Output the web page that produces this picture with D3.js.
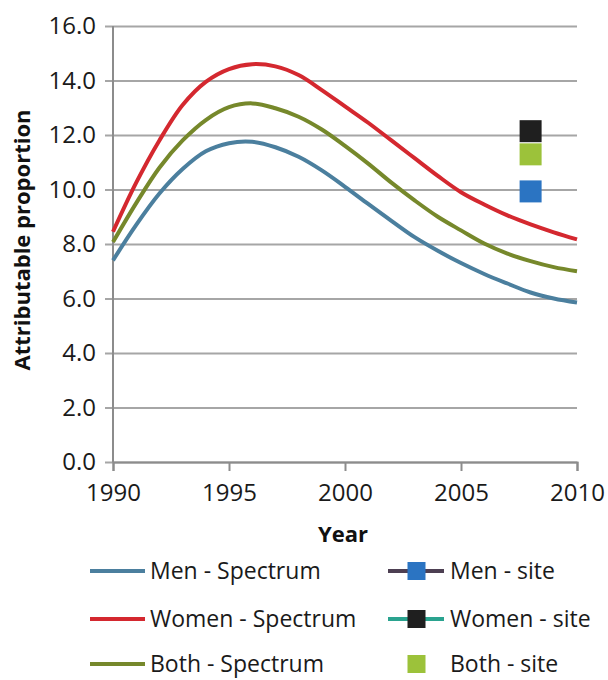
<!DOCTYPE html>
<html>
<head>
<meta charset="utf-8">
<script src="https://cdn.jsdelivr.net/npm/d3@7"></script>
<style>
  body { margin: 0; background: #fff; }
  svg { display: block; font-family: "Open Sans", sans-serif; }
</style>
</head>
<body>
<div id="chart"></div>
<script>
// data
const years = [1990, 1991, 1992, 1993, 1994, 1995, 1996, 1997, 1998, 1999, 2000,
               2001, 2002, 2003, 2004, 2005, 2006, 2007, 2008, 2009, 2010];
const menSpectrum   = [7.4, 8.7, 9.85, 10.75, 11.4, 11.7, 11.75, 11.55, 11.2, 10.7, 10.1,
                       9.47, 8.85, 8.25, 7.75, 7.3, 6.9, 6.55, 6.22, 6.0, 5.85];
const womenSpectrum = [8.45, 10.25, 11.8, 13.1, 13.95, 14.42, 14.6, 14.52, 14.2, 13.65, 13.05,
                       12.45, 11.8, 11.15, 10.5, 9.9, 9.45, 9.05, 8.72, 8.43, 8.17];
const bothSpectrum  = [8.07, 9.5, 10.8, 11.8, 12.55, 13.02, 13.16, 12.98, 12.67, 12.2, 11.6,
                       10.95, 10.25, 9.6, 9.0, 8.5, 8.02, 7.65, 7.37, 7.15, 7.0];
const siteYear = 2008;
const siteValues = [9.93, 11.29, 12.14];          // men, both, women
const yTicks = [0, 2, 4, 6, 8, 10, 12, 14, 16];
const xTicks = [1990, 1995, 2000, 2005, 2010];

const W = 608, H = 680;
const plotL = 113, plotR = 577, plotT = 26, plotB = 462;

const svg = d3.select("#chart").append("svg")
  .attr("width", W).attr("height", H);

const x = d3.scaleLinear().domain([1990, 2010]).range([plotL, plotR]);
const y = d3.scaleLinear().domain([0, 16]).range([plotB, plotT]);

// gridlines + y labels (axis anchored on the right so lines run out past the y axis)
const yAxis = svg.append("g")
  .attr("transform", `translate(${plotR},0)`)
  .call(d3.axisLeft(y).tickValues(yTicks).tickFormat(d3.format(".1f"))
    .tickSize(plotR - plotL + 8).tickPadding(9));
yAxis.select(".domain").remove();
yAxis.selectAll("line").attr("stroke", "#a6a6a6").attr("stroke-width", 2);
yAxis.selectAll("text").attr("font-size", 24).attr("fill", "#1a1a1a")
  .attr("font-family", "Open Sans, sans-serif");

// vertical axis line
svg.append("line")
  .attr("x1", plotL).attr("x2", plotL)
  .attr("y1", y(16)).attr("y2", y(0))
  .attr("stroke", "#8c8c8c").attr("stroke-width", 2);

// x axis
const xAxis = svg.append("g")
  .attr("transform", `translate(0,${plotB})`)
  .call(d3.axisBottom(x).tickValues(xTicks).tickFormat(d3.format("d"))
    .tickSize(9).tickPadding(13));
xAxis.selectAll("path, line").attr("stroke", "#8c8c8c").attr("stroke-width", 2);
xAxis.selectAll("text").attr("font-size", 24).attr("fill", "#1a1a1a")
  .attr("font-family", "Open Sans, sans-serif");

// axis titles
svg.append("text")
  .attr("x", 343).attr("y", 542)
  .attr("text-anchor", "middle")
  .attr("font-size", 22).attr("font-weight", "bold").attr("fill", "#111")
  .text("Year");

svg.append("text")
  .attr("transform", "translate(30,240) rotate(-90)")
  .attr("text-anchor", "middle")
  .attr("font-size", 22).attr("font-weight", "bold").attr("fill", "#111")
  .text("Attributable proportion");

// spectrum lines
const series = [
  {name: "Men - Spectrum", values: menSpectrum, color: "#4b7f9e"},
  {name: "Women - Spectrum", values: womenSpectrum, color: "#d4282f"},
  {name: "Both - Spectrum", values: bothSpectrum, color: "#76882b"}
];

const line = d3.line()
  .x((d, i) => x(years[i]))
  .y(d => y(d))
  .curve(d3.curveCatmullRom);

svg.selectAll(".spec")
  .data(series)
  .join("path")
    .attr("class", "spec")
    .attr("d", d => line(d.values))
    .attr("fill", "none")
    .attr("stroke", d => d.color)
    .attr("stroke-width", 4)
    .attr("stroke-linejoin", "round");

// site markers
const siteColors = ["#2b74c2", "#9cc23a", "#1f1f1f"];
const sq = 22;
svg.selectAll(".site")
  .data(siteValues)
  .join("rect")
    .attr("class", "site")
    .attr("x", x(siteYear) - sq / 2)
    .attr("y", d => y(d) - sq / 2)
    .attr("width", sq).attr("height", sq)
    .attr("fill", (d, i) => siteColors[i]);

// legend
const legRows = [571, 619, 664];
const legLeft = svg.append("g");
series.forEach((s, i) => {
  legLeft.append("line")
    .attr("x1", 90).attr("x2", 145)
    .attr("y1", legRows[i]).attr("y2", legRows[i])
    .attr("stroke", s.color).attr("stroke-width", 4);
  legLeft.append("text")
    .attr("x", 150).attr("y", legRows[i]).attr("dy", "0.35em")
    .attr("font-size", 23).attr("fill", "#1a1a1a")
    .text(s.name);
});

const legendSite = [
  {name: "Men - site", fill: "#2b74c2", lineColor: "#4d3f52"},
  {name: "Women - site", fill: "#1f1f1f", lineColor: "#2aa38f"},
  {name: "Both - site", fill: "#9cc23a", lineColor: null}
];
legendSite.forEach((s, i) => {
  if (s.lineColor) {
    svg.append("line")
      .attr("x1", 388).attr("x2", 444)
      .attr("y1", legRows[i]).attr("y2", legRows[i])
      .attr("stroke", s.lineColor).attr("stroke-width", 4);
  }
  svg.append("rect")
    .attr("x", 416.5 - 9).attr("y", legRows[i] - 9)
    .attr("width", 18).attr("height", 18)
    .attr("fill", s.fill);
  svg.append("text")
    .attr("x", 450).attr("y", legRows[i]).attr("dy", "0.35em")
    .attr("font-size", 23).attr("fill", "#1a1a1a")
    .text(s.name);
});
</script>
</body>
</html>
